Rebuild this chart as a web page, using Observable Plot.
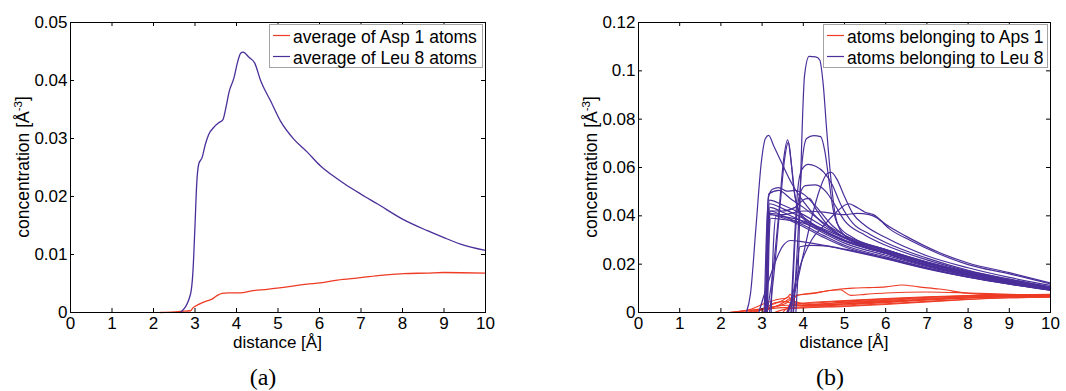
<!DOCTYPE html>
<html>
<head>
<meta charset="utf-8">
<script src="https://cdn.jsdelivr.net/npm/d3@7"></script>
<script src="https://cdn.jsdelivr.net/npm/@observablehq/plot@0.6"></script>
<style>
  html, body { margin: 0; padding: 0; background: #fff; }
  #chart { position: relative; width: 1066px; height: 391px; overflow: hidden; }
  #chart > svg { position: absolute; top: 0; }
</style>
</head>
<body>
<div id="chart"></div>
<script>
// ---- colours and ticks ----
const RED = "#ee3b24";
const BLUE = "#4a2f9a";
const xTicks = [0, 1, 2, 3, 4, 5, 6, 7, 8, 9, 10];
const yTicksA = [0, 0.01, 0.02, 0.03, 0.04, 0.05];
const yTicksB = [0, 0.02, 0.04, 0.06, 0.08, 0.1, 0.12];

// ---- panel (a): averaged concentration profiles ----
const avgDistAsp = [2.17, 2.5, 2.65, 2.89, 2.95, 3.09, 3.29, 3.41, 3.53, 3.65, 3.8, 4.1, 4.34, 4.74, 5.22, 5.7, 6.02, 6.43, 6.99, 7.47, 8.03, 8.59, 8.99, 10];
const avgConcAsp = [0, 0.0001, 0.0002, 0.0003, 0.0008, 0.0014, 0.002, 0.0023, 0.0029, 0.0033, 0.0034, 0.0034, 0.0037, 0.004, 0.0044, 0.0049, 0.0051, 0.0056, 0.006, 0.0064, 0.0067, 0.0068, 0.0069, 0.0068];

const avgDistLeu = [2.65, 2.89, 2.95, 3.0, 3.04, 3.09, 3.17, 3.25, 3.33, 3.45, 3.57, 3.67, 3.75, 3.82, 3.94, 4.02, 4.1, 4.16, 4.3, 4.44, 4.58, 4.82, 5.06, 5.38, 5.7, 6.02, 6.3, 6.6, 7.0, 7.4, 8.0, 8.6, 9.0, 9.4, 10];
const avgConcLeu = [0, 0.0031, 0.007, 0.015, 0.022, 0.0256, 0.0267, 0.029, 0.0307, 0.0319, 0.0327, 0.0332, 0.0355, 0.038, 0.0405, 0.043, 0.0447, 0.0449, 0.044, 0.043, 0.040, 0.0365, 0.033, 0.0299, 0.0277, 0.0253, 0.0237, 0.0222, 0.0204, 0.0187, 0.0161, 0.0141, 0.0129, 0.0118, 0.0107];

// ---- panel (b): per-atom profiles, [distance, concentration] ----
const asp1Curves = [
  [[3.6,0],[3.7,0.004],[3.85,0.0072],[4.2,0.0078],[4.6,0.009],[4.9,0.0097],[5.2,0.0101],[5.6,0.0103],[6.0,0.0106],[6.4,0.0114],[6.8,0.0106],[7.3,0.0097],[8.1,0.0078],[9,0.0072],[10,0.007]],
  [[3.62,0],[3.72,0.004],[3.85,0.007],[4.3,0.0082],[4.9,0.0094],[5.15,0.0071],[5.5,0.0075],[6.0,0.0081],[7.0,0.0085],[8.0,0.0081],[9,0.0075],[10,0.0071]],
  [[2.2,0],[2.6,0.0008],[3.0,0.0015],[3.3,0.0025],[3.6,0.003],[4,0.0026],[5,0.0031],[6,0.0041],[7,0.0052],[8,0.006],[9,0.0065],[10,0.0067]],
  [[2.3,0],[2.7,0.0012],[3.1,0.004],[3.4,0.0055],[3.6,0.006],[3.68,0.0075],[3.8,0.004],[4.2,0.0034],[5,0.0043],[6,0.0053],[7,0.0062],[8,0.0068],[9,0.0071],[10,0.0072]],
  [[2.5,0],[2.9,0.001],[3.2,0.003],[3.5,0.005],[3.65,0.0065],[3.75,0.0035],[4,0.0028],[5,0.0035],[6,0.0045],[7,0.0054],[8,0.0061],[9,0.0065],[10,0.0067]],
  [[2.8,0],[3.1,0.002],[3.3,0.004],[3.6,0.0045],[3.8,0.003],[4.5,0.0032],[5.5,0.0041],[6.5,0.0051],[7.5,0.006],[8.5,0.0066],[10,0.0069]],
  [[3.0,0],[3.2,0.0015],[3.5,0.002],[4,0.0022],[5,0.0027],[6,0.0036],[7,0.0046],[8,0.0055],[9,0.0061],[10,0.0064]],
  [[2.7,0],[3.0,0.001],[3.4,0.003],[3.6,0.005],[3.7,0.006],[3.8,0.0045],[4.0,0.0038],[5,0.0047],[6,0.0056],[7,0.0063],[8,0.0069],[9,0.0073],[10,0.0074]],
  [[3.3,0],[3.6,0.0015],[4,0.0019],[5,0.0025],[6,0.0033],[7,0.0044],[8,0.0054],[9,0.0061],[10,0.0063]],
  [[3.5,0],[3.7,0.003],[3.9,0.0036],[5,0.0049],[6,0.0058],[7,0.0065],[8,0.007],[9,0.0073],[10,0.0075]],
  [[2.2,0],[2.5,0.0005],[2.9,0.0012],[3.2,0.002],[3.6,0.004],[3.7,0.0055],[3.85,0.003],[4.5,0.0036],[5.5,0.0045],[6.5,0.0055],[7.5,0.0062],[8.5,0.0067],[10,0.007]],
  [[3.6,0],[3.75,0.003],[4,0.003],[5,0.0035],[6,0.0044],[7,0.0053],[8,0.0061],[9,0.0066],[10,0.0069]]
];

const leu8Curves = [
  [[3.82,0],[3.88,0.02],[3.94,0.058],[4.03,0.098],[4.14,0.106],[4.3,0.1058],[4.4,0.1045],[4.48,0.095],[4.57,0.075],[4.66,0.057],[4.76,0.042],[4.9,0.034],[5.3,0.0285],[6,0.0245],[7,0.0195],[8,0.0155],[9,0.0125],[10,0.0097]],
  [[3.76,0],[3.85,0.025],[3.95,0.058],[4.08,0.072],[4.25,0.0732],[4.42,0.0728],[4.52,0.067],[4.62,0.055],[4.72,0.043],[4.85,0.036],[5.2,0.031],[6,0.026],[7,0.0205],[8,0.016],[9,0.0128],[10,0.01]],
  [[2.62,0],[2.72,0.008],[2.85,0.035],[2.98,0.062],[3.08,0.072],[3.16,0.0733],[3.28,0.069],[3.5,0.061],[3.7,0.054],[4.0,0.046],[4.4,0.038],[5,0.031],[6,0.0245],[7,0.0195],[8,0.0155],[9,0.0123],[10,0.0095]],
  [[3.12,0],[3.25,0.015],[3.4,0.04],[3.52,0.063],[3.62,0.0714],[3.7,0.063],[3.78,0.05],[3.9,0.042],[4.2,0.037],[4.8,0.031],[5.5,0.027],[6.5,0.022],[7.5,0.0175],[8.5,0.014],[10,0.0098]],
  [[3.18,0],[3.3,0.018],[3.44,0.045],[3.55,0.064],[3.64,0.0705],[3.72,0.06],[3.8,0.048],[3.95,0.04],[4.3,0.0355],[5,0.0295],[6,0.0245],[7,0.0195],[8,0.0155],[9,0.0125],[10,0.0097]],
  [[3.7,0],[3.78,0.028],[3.86,0.05],[3.96,0.059],[4.12,0.0613],[4.3,0.0605],[4.5,0.058],[4.7,0.053],[4.9,0.045],[5.2,0.037],[5.6,0.0325],[6,0.029],[7,0.0225],[8,0.0175],[9,0.0138],[10,0.0106]],
  [[3.6,0],[3.8,0.009],[4.0,0.024],[4.2,0.039],[4.4,0.051],[4.58,0.0575],[4.68,0.058],[4.82,0.055],[5.0,0.048],[5.2,0.041],[5.5,0.036],[6,0.031],[7,0.0235],[8,0.0185],[9,0.0145],[10,0.0112]],
  [[3.64,0],[3.75,0.008],[3.9,0.018],[4.2,0.03],[4.5,0.036],[4.8,0.0415],[5.1,0.045],[5.3,0.0435],[5.5,0.0415],[5.7,0.0405],[6.0,0.0365],[6.5,0.0315],[7.3,0.0248],[8,0.0205],[9,0.0165],[10,0.0122]],
  [[3.08,0],[3.13,0.03],[3.18,0.041],[3.5,0.0405],[4,0.042],[4.5,0.0415],[5,0.0405],[5.3,0.041],[5.6,0.0405],[5.8,0.039],[6.1,0.0345],[6.6,0.0298],[7.3,0.0242],[8,0.0198],[9,0.016],[10,0.0118]],
  [[3.05,0],[3.1,0.03],[3.16,0.048],[3.25,0.051],[3.4,0.0517],[3.6,0.0502],[3.8,0.0505],[4.0,0.049],[4.3,0.044],[4.7,0.036],[5,0.032],[6,0.026],[7,0.021],[8,0.0168],[9,0.0133],[10,0.0104]],
  [[3.08,0],[3.12,0.035],[3.16,0.049],[3.4,0.0505],[3.7,0.047],[4.0,0.0435],[4.5,0.037],[5,0.032],[6,0.026],[7,0.0208],[8,0.0165],[9,0.013],[10,0.0101]],
  [[3.72,0],[3.8,0.03],[3.9,0.048],[4.05,0.0525],[4.3,0.0528],[4.55,0.05],[4.75,0.045],[5.0,0.038],[5.5,0.032],[6,0.0278],[7,0.0218],[8,0.0172],[9,0.0137],[10,0.0105]],
  [[3.1,0],[3.15,0.038],[3.2,0.042],[3.5,0.042],[3.8,0.0435],[4.05,0.047],[4.15,0.0472],[4.3,0.043],[4.6,0.036],[5,0.031],[6,0.0252],[7,0.0202],[8,0.016],[9,0.0128],[10,0.0099]],
  [[3.1,0],[3.14,0.036],[3.18,0.0465],[3.5,0.0445],[4,0.0405],[4.5,0.0355],[5,0.031],[6,0.0255],[7,0.0205],[8,0.0163],[9,0.013],[10,0.01]],
  [[3.1,0],[3.14,0.035],[3.18,0.045],[3.5,0.043],[4,0.039],[4.5,0.034],[5,0.0298],[6,0.0245],[7,0.0197],[8,0.0157],[9,0.0125],[10,0.0097]],
  [[3.11,0],[3.15,0.034],[3.19,0.0435],[3.5,0.0415],[4,0.0375],[4.5,0.0328],[5,0.0287],[6,0.0237],[7,0.019],[8,0.0152],[9,0.0121],[10,0.0094]],
  [[3.12,0],[3.16,0.033],[3.2,0.042],[3.5,0.04],[4,0.0362],[4.5,0.0318],[5,0.0278],[6,0.023],[7,0.0185],[8,0.0148],[9,0.0118],[10,0.0092]],
  [[3.12,0],[3.16,0.032],[3.2,0.0405],[3.5,0.0392],[4,0.0355],[4.5,0.031],[5,0.0272],[6,0.0225],[7,0.0182],[8,0.0146],[9,0.0117],[10,0.0092]],
  [[3.13,0],[3.17,0.03],[3.21,0.039],[3.5,0.0385],[4,0.037],[4.5,0.0335],[5,0.03],[6,0.025],[7,0.0203],[8,0.0163],[9,0.013],[10,0.0101]],
  [[3.22,0],[3.28,0.03],[3.34,0.04],[3.6,0.0395],[4,0.0378],[4.5,0.0345],[5,0.0308],[6,0.0258],[7,0.0208],[8,0.0168],[9,0.0134],[10,0.0104]],
  [[2.92,0],[3.1,0.01],[3.3,0.02],[3.5,0.0275],[3.7,0.0298],[4.0,0.0292],[4.5,0.0278],[5,0.026],[6,0.0222],[7,0.018],[8,0.0146],[9,0.0118],[10,0.0093]],
  [[3.76,0],[3.84,0.018],[3.92,0.0272],[4.2,0.0278],[4.6,0.0275],[5,0.0262],[6,0.0225],[7,0.0183],[8,0.0148],[9,0.012],[10,0.0094]]
];

// ---- shared frame: boxed axes with inward ticks ----
const FONT = "'Liberation Sans', Arial, Helvetica, sans-serif";
const W = 533, H = 350, MT = 22, MB = 38;

function panel({marginLeft, marginRight, yDomain, yTicks, marks}) {
  const pw = W - marginLeft - marginRight;
  const ph = H - MT - MB;
  const tick = 4;
  return Plot.plot({
    width: W, height: H,
    marginLeft, marginRight, marginTop: MT, marginBottom: MB,
    style: {fontFamily: FONT, fontSize: "17px", color: "#000", background: "transparent", overflow: "visible"},
    x: {domain: [0, 10]},
    y: {domain: yDomain},
    marks: [
      ...marks,
      Plot.frame({stroke: "#000", strokeWidth: 1}),
      Plot.tickX(xTicks, {x: d => d, insetTop: ph - tick, stroke: "#000"}),
      Plot.tickX(xTicks, {x: d => d, insetBottom: ph - tick, stroke: "#000"}),
      Plot.tickY(yTicks, {y: d => d, insetRight: pw - tick, stroke: "#000"}),
      Plot.tickY(yTicks, {y: d => d, insetLeft: pw - tick, stroke: "#000"}),
      Plot.axisX(xTicks, {tickSize: 0, tickPadding: 4.5, label: null, tickFormat: d => String(d)}),
      Plot.axisY(yTicks, {tickSize: 0, tickPadding: 3, label: null, tickFormat: d => String(d)})
    ]
  });
}

const rowsOf = (xs, ys) => xs.map((x, i) => ({x, y: ys[i]}));
const flatten = (curves, tag) => curves.flatMap((c, k) => c.map(([x, y]) => ({x, y, id: tag + k})));

const chartA = panel({
  marginLeft: 70, marginRight: 48,
  yDomain: [0, 0.05], yTicks: yTicksA,
  marks: [
    Plot.line(rowsOf(avgDistAsp, avgConcAsp), {x: "x", y: "y", stroke: RED, strokeWidth: 1.3, curve: "monotone-x"}),
    Plot.line(rowsOf(avgDistLeu, avgConcLeu), {x: "x", y: "y", stroke: BLUE, strokeWidth: 1.3, curve: "monotone-x"})
  ]
});

const chartB = panel({
  marginLeft: 105, marginRight: 16,
  yDomain: [0, 0.12], yTicks: yTicksB,
  marks: [
    Plot.line(flatten(asp1Curves, "asp"), {x: "x", y: "y", z: "id", stroke: RED, strokeWidth: 1.1, curve: "monotone-x"}),
    Plot.line(flatten(leu8Curves, "leu"), {x: "x", y: "y", z: "id", stroke: BLUE, strokeWidth: 1.2, curve: "monotone-x"})
  ]
});

const root = document.getElementById("chart");
chartA.style.left = "0px";
chartB.style.left = "533px";
root.appendChild(chartA);
root.appendChild(chartB);

// ---- titles, legends and sub-captions ----
const overlay = d3.select(root).append("svg")
  .attr("width", 1066).attr("height", 391)
  .style("left", "0px").style("pointer-events", "none")
  .attr("font-family", FONT).attr("fill", "#000");

function yTitle(x, y) {
  const t = overlay.append("text")
    .attr("transform", `translate(${x},${y}) rotate(-90)`)
    .attr("text-anchor", "middle").attr("font-size", 17.5);
  t.append("tspan").text("concentration [Å");
  t.append("tspan").attr("font-size", 11.5).attr("dy", "-0.55em").text("-3");
  t.append("tspan").attr("dy", "0.35em").text("]");
}
function xTitle(x, y) {
  overlay.append("text").attr("x", x).attr("y", y)
    .attr("text-anchor", "middle").attr("font-size", 17).text("distance [Å]");
}
function legend(x, y, w, h, entries) {
  overlay.append("rect").attr("x", x + 0.5).attr("y", y + 0.5)
    .attr("width", w).attr("height", h)
    .attr("fill", "#fff").attr("stroke", "#a3a3a3");
  entries.forEach(([label, color], i) => {
    const cy = y + 11.5 + i * 21;
    overlay.append("line").attr("x1", x + 4).attr("x2", x + 21)
      .attr("y1", cy).attr("y2", cy).attr("stroke", color).attr("stroke-width", 1.2);
    overlay.append("text").attr("x", x + 24).attr("y", cy + 7)
      .attr("font-size", 17.5).text(label);
  });
}
function caption(x, label) {
  overlay.append("text").attr("x", x).attr("y", 385)
    .attr("text-anchor", "middle")
    .attr("font-family", "'Liberation Serif', 'DejaVu Serif', serif")
    .attr("font-size", 24).text(label);
}

yTitle(28.5, 167);
yTitle(596.5, 167);
xTitle(277.5, 348);
xTitle(844, 348);
legend(269, 24, 213, 43, [["average of Asp 1 atoms", RED], ["average of Leu 8 atoms", BLUE]]);
legend(823, 24, 224, 43, [["atoms belonging to Aps 1", RED], ["atoms belonging to Leu 8", BLUE]]);
caption(263, "(a)");
caption(830, "(b)");
</script>
</body>
</html>
